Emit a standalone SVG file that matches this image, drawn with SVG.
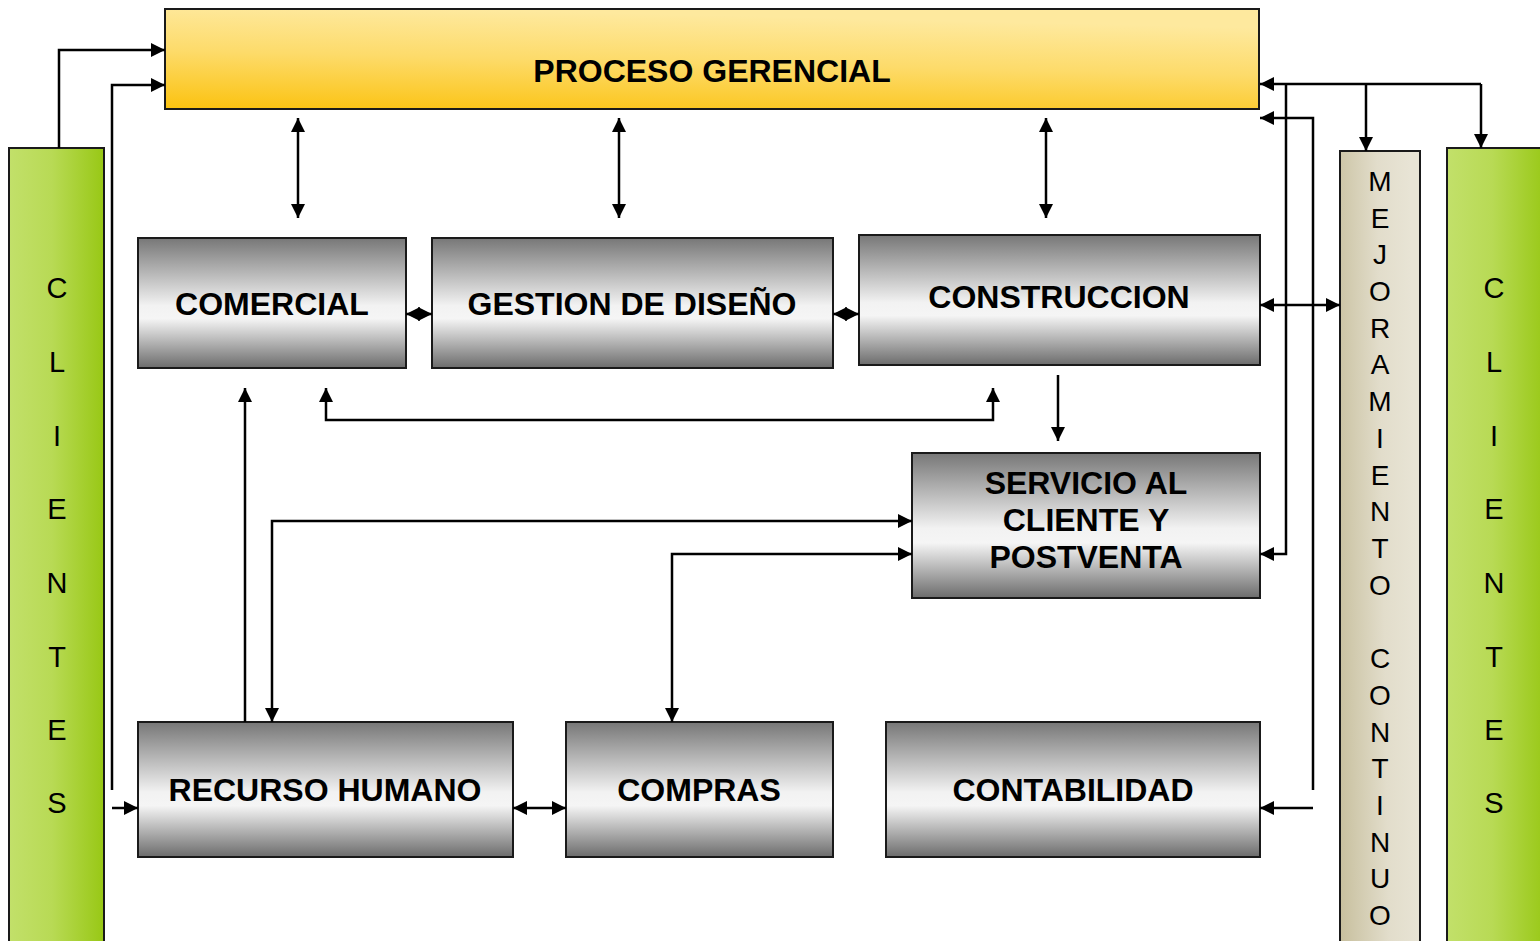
<svg xmlns="http://www.w3.org/2000/svg" width="1540" height="941" viewBox="0 0 1540 941">
<defs>
<linearGradient id="gGray" x1="0" y1="0" x2="0" y2="1">
<stop offset="0" stop-color="#777777"/>
<stop offset="0.52" stop-color="#f2f2f2"/>
<stop offset="0.62" stop-color="#f5f5f5"/>
<stop offset="1" stop-color="#6c6c6c"/>
</linearGradient>
<linearGradient id="gYellow" x1="0" y1="1" x2="0.25" y2="0">
<stop offset="0" stop-color="#fbc20f"/>
<stop offset="0.55" stop-color="#fddb6a"/>
<stop offset="1" stop-color="#fee99e"/>
</linearGradient>
<linearGradient id="gGreen" x1="0" y1="0" x2="1" y2="0">
<stop offset="0" stop-color="#c2e06a"/>
<stop offset="0.45" stop-color="#b8da55"/>
<stop offset="1" stop-color="#98c815"/>
</linearGradient>
<linearGradient id="gBeige" x1="0" y1="1" x2="1" y2="0.85">
<stop offset="0" stop-color="#c7bf9d"/>
<stop offset="0.6" stop-color="#e2ddcb"/>
<stop offset="1" stop-color="#e8e4d5"/>
</linearGradient>
<marker id="ah" viewBox="0 0 10 10" refX="10" refY="5" markerWidth="16" markerHeight="14" markerUnits="userSpaceOnUse" orient="auto-start-reverse">
<path d="M0,0 L10,5 L0,10 Z" fill="#000"/>
</marker>
<style>
.box{stroke:#1a1a1a;stroke-width:2}
.gray{fill:url(#gGray)}
.lbl{font-family:"Liberation Sans",Arial,sans-serif;font-weight:bold;font-size:32px;fill:#000;text-anchor:middle}
.vl{font-family:"Liberation Sans",Arial,sans-serif;font-size:29px;fill:#000;text-anchor:middle}
.vm{font-family:"Liberation Sans",Arial,sans-serif;font-size:28px;fill:#000;text-anchor:middle}
.c{fill:none;stroke:#000;stroke-width:2.5}
.a{marker-end:url(#ah)}
.aa{marker-start:url(#ah);marker-end:url(#ah)}
</style>
</defs>
<rect width="1540" height="941" fill="#fff"/>

<g id="proceso-gerencial">
<rect class="box" x="165" y="9" width="1094" height="100" fill="url(#gYellow)"/>
<text class="lbl" x="712" y="82">PROCESO GERENCIAL</text>
</g>

<g id="clientes-izq">
<rect class="box" x="9" y="148" width="95" height="800" fill="url(#gGreen)"/>
<text class="vl"><tspan x="57" y="298">C</tspan><tspan x="57" y="372">L</tspan><tspan x="57" y="446">I</tspan><tspan x="57" y="519">E</tspan><tspan x="57" y="593">N</tspan><tspan x="57" y="667">T</tspan><tspan x="57" y="740">E</tspan><tspan x="57" y="813">S</tspan></text>
</g>

<g id="clientes-der">
<rect class="box" x="1447" y="148" width="100" height="800" fill="url(#gGreen)"/>
<text class="vl"><tspan x="1494" y="298">C</tspan><tspan x="1494" y="372">L</tspan><tspan x="1494" y="446">I</tspan><tspan x="1494" y="519">E</tspan><tspan x="1494" y="593">N</tspan><tspan x="1494" y="667">T</tspan><tspan x="1494" y="740">E</tspan><tspan x="1494" y="813">S</tspan></text>
</g>

<g id="mejoramiento-continuo">
<rect class="box" x="1340" y="151" width="80" height="800" fill="url(#gBeige)"/>
<text class="vm"><tspan x="1380" y="191">M</tspan><tspan x="1380" y="228">E</tspan><tspan x="1380" y="264">J</tspan><tspan x="1380" y="301">O</tspan><tspan x="1380" y="338">R</tspan><tspan x="1380" y="374">A</tspan><tspan x="1380" y="411">M</tspan><tspan x="1380" y="448">I</tspan><tspan x="1380" y="485">E</tspan><tspan x="1380" y="521">N</tspan><tspan x="1380" y="558">T</tspan><tspan x="1380" y="595">O</tspan><tspan x="1380" y="668">C</tspan><tspan x="1380" y="705">O</tspan><tspan x="1380" y="742">N</tspan><tspan x="1380" y="778">T</tspan><tspan x="1380" y="815">I</tspan><tspan x="1380" y="852">N</tspan><tspan x="1380" y="888">U</tspan><tspan x="1380" y="925">O</tspan></text>
</g>

<g id="comercial">
<rect class="box gray" x="138" y="238" width="268" height="130"/>
<text class="lbl" x="272" y="315">COMERCIAL</text>
</g>

<g id="gestion-diseno">
<rect class="box gray" x="432" y="238" width="401" height="130"/>
<text class="lbl" x="632" y="315">GESTION DE DISEÑO</text>
</g>

<g id="construccion">
<rect class="box gray" x="859" y="235" width="401" height="130"/>
<text class="lbl" x="1059" y="308">CONSTRUCCION</text>
</g>

<g id="servicio-cliente">
<rect class="box gray" x="912" y="453" width="348" height="145"/>
<text class="lbl"><tspan x="1086" y="494">SERVICIO AL</tspan><tspan x="1086" y="531">CLIENTE Y</tspan><tspan x="1086" y="568">POSTVENTA</tspan></text>
</g>

<g id="recurso-humano">
<rect class="box gray" x="138" y="722" width="375" height="135"/>
<text class="lbl" x="325" y="801">RECURSO HUMANO</text>
</g>

<g id="compras">
<rect class="box gray" x="566" y="722" width="267" height="135"/>
<text class="lbl" x="699" y="801">COMPRAS</text>
</g>

<g id="contabilidad">
<rect class="box gray" x="886" y="722" width="374" height="135"/>
<text class="lbl" x="1073" y="801">CONTABILIDAD</text>
</g>

<g id="connectors">
<path class="c a" d="M59,148 V50 H165"/>
<path class="c a" d="M112,790 V85 H165"/>
<path class="c a" d="M112,808 H138"/>
<path class="c aa" d="M298,118 V218"/>
<path class="c aa" d="M619,118 V218"/>
<path class="c aa" d="M1046,118 V218"/>
<path class="c aa" d="M406,314 H432"/>
<path class="c aa" d="M833,314 H859"/>
<path class="c a" d="M1058,375 V441"/>
<path class="c aa" d="M326,388 V420 H993 V388"/>
<path class="c a" d="M245,722 V388"/>
<path class="c aa" d="M272,722 V521 H912"/>
<path class="c aa" d="M672,722 V554 H912"/>
<path class="c aa" d="M513,808 H566"/>
<path class="c a" d="M1481,84 H1260"/>
<path class="c a" d="M1366,84 V151"/>
<path class="c a" d="M1481,84 V148"/>
<path class="c a" d="M1286,84 V554 H1260"/>
<path class="c a" d="M1313,790 V118 H1260"/>
<path class="c a" d="M1313,808 H1260"/>
<path class="c aa" d="M1260,305 H1340"/>
</g>
</svg>
